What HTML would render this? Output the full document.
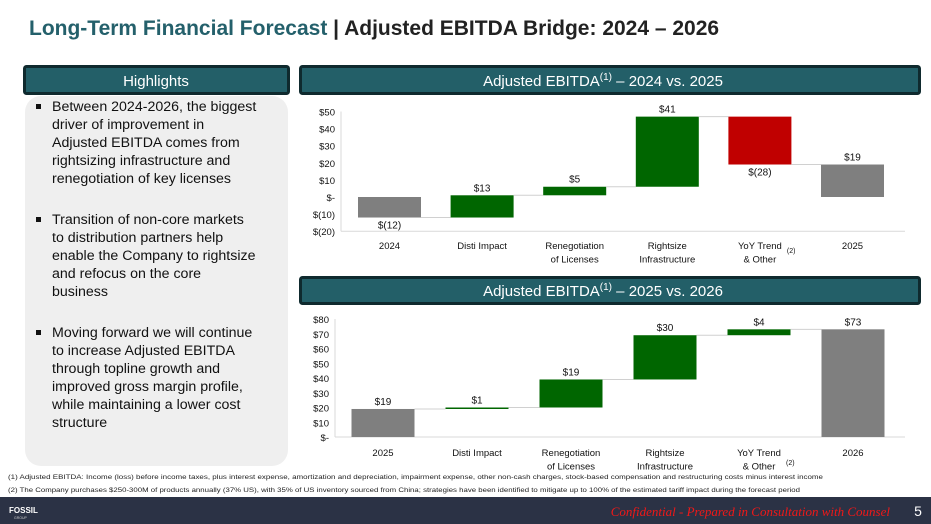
<!DOCTYPE html>
<html><head><meta charset="utf-8"><style>
body{margin:0;width:931px;height:524px;overflow:hidden;background:#fff;font-family:"Liberation Sans",sans-serif}
svg{display:block}
</style></head><body>
<svg id="s" width="931" height="524" font-family="Liberation Sans, sans-serif">
<text x="29" y="35" font-size="21" font-weight="bold"><tspan fill="#24606b">Long-Term Financial Forecast</tspan><tspan fill="#222"> | Adjusted EBITDA Bridge: 2024 – 2026</tspan></text>
<rect x="25" y="96" width="263" height="370" rx="16" fill="#efefef"/>
<rect x="24.5" y="66.5" width="264" height="27" rx="2" fill="#235f68" stroke="#0f2a2e" stroke-width="3"/>
<text x="156" y="86" font-size="15" fill="#fff" text-anchor="middle">Highlights</text>
<rect x="300.5" y="66.5" width="619" height="27" rx="2" fill="#235f68" stroke="#0f2a2e" stroke-width="3"/>
<text x="603" y="86" font-size="15" fill="#fff" text-anchor="middle">Adjusted EBITDA<tspan font-size="10" dy="-6">(1)</tspan><tspan dy="6"> – 2024 vs. 2025</tspan></text>
<rect x="300.5" y="277.5" width="619" height="26" rx="2" fill="#235f68" stroke="#0f2a2e" stroke-width="3"/>
<text x="603" y="296" font-size="15" fill="#fff" text-anchor="middle">Adjusted EBITDA<tspan font-size="10" dy="-6">(1)</tspan><tspan dy="6"> – 2025 vs. 2026</tspan></text>
<g font-size="14.2" fill="#111">
<rect x="36" y="104" width="5" height="5" fill="#111"/>
<text x="52" y="111">Between 2024-2026, the biggest</text>
<text x="52" y="129">driver of improvement in</text>
<text x="52" y="147">Adjusted EBITDA comes from</text>
<text x="52" y="165">rightsizing infrastructure and</text>
<text x="52" y="183">renegotiation of key licenses</text>
<rect x="36" y="217" width="5" height="5" fill="#111"/>
<text x="52" y="224">Transition of non-core markets</text>
<text x="52" y="242">to distribution partners help</text>
<text x="52" y="260">enable the Company to rightsize</text>
<text x="52" y="278">and refocus on the core</text>
<text x="52" y="296">business</text>
<rect x="36" y="330" width="5" height="5" fill="#111"/>
<text x="52" y="337">Moving forward we will continue</text>
<text x="52" y="355">to increase Adjusted EBITDA</text>
<text x="52" y="373">through topline growth and</text>
<text x="52" y="391">improved gross margin profile,</text>
<text x="52" y="409">while maintaining a lower cost</text>
<text x="52" y="427">structure</text>
</g>
<g id="c1"></g>
<g id="c2"></g>
<g font-size="6.6" fill="#222">
<text x="8" y="479" textLength="815" lengthAdjust="spacingAndGlyphs">(1) Adjusted EBITDA: Income (loss) before income taxes, plus interest expense, amortization and depreciation, impairment expense, other non-cash charges, stock-based compensation and restructuring costs minus interest income</text>
<text x="8" y="492" textLength="792" lengthAdjust="spacingAndGlyphs">(2) The Company purchases $250-300M of products annually (37% US), with 35% of US inventory sourced from China; strategies have been identified to mitigate up to 100% of the estimated tariff impact during the forecast period</text>
</g>
<rect x="0" y="497" width="931" height="27" fill="#2b3245"/>
<text x="9" y="513" font-size="8" font-weight="bold" fill="#fff">FOSSIL</text>
<text x="14" y="519" font-size="3.5" fill="#ccc">GROUP</text>
<text x="890" y="516" font-size="13" font-style="italic" fill="#f01818" text-anchor="end" font-family="Liberation Serif, serif">Confidential - Prepared in Consultation with Counsel</text>
<text x="918" y="516" font-size="14" fill="#fff" text-anchor="middle">5</text>
</svg>
<script>
const cats1 = ["2024","Disti Impact","Renegotiation|of Licenses","Rightsize|Infrastructure","YoY Trend|& Other","2025"];
const vals1 = [-12, 13, 5, 41, -28, 19];
const labels1 = ["$(12)","$13","$5","$41","$(28)","$19"];
const ticks1 = [50,40,30,20,10,0,-10,-20];
const tickLabels1 = ["$50","$40","$30","$20","$10","$-","$(10)","$(20)"];
const cats2 = ["2025","Disti Impact","Renegotiation|of Licenses","Rightsize|Infrastructure","YoY Trend|& Other","2026"];
const vals2 = [19, 1, 19, 30, 4, 73];
const labels2 = ["$19","$1","$19","$30","$4","$73"];
const ticks2 = [80,70,60,50,40,30,20,10,0];
const tickLabels2 = ["$80","$70","$60","$50","$40","$30","$20","$10","$-"];
const NS="http://www.w3.org/2000/svg";
function mk(t,a,p){const e=document.createElementNS(NS,t);for(const k in a)e.setAttribute(k,a[k]);p.appendChild(e);return e;}
function draw(g,cats,vals,labels,ticks,tl,o){
  const y=v=>o.zeroY-v*o.ppu, x=i=>o.x0+o.step*i;
  ticks.forEach((t,i)=>{const e=mk("text",{x:o.axisX-6,y:y(t)+4,"font-size":9.5,"text-anchor":"end",fill:"#111"},g);e.textContent=tl[i];
    
    });
  const ax=mk("line",{x1:o.axisX,x2:o.axisX,y1:y(ticks[0]),y2:y(ticks[ticks.length-1]),stroke:"#d9d9d9"},g);
  
  
  const bx=mk("line",{x1:o.axisX,x2:905,y1:y(ticks[ticks.length-1]),y2:y(ticks[ticks.length-1]),stroke:"#d9d9d9"},g);
  
  
  let run=0;const n=vals.length;
  vals.forEach((v,i)=>{
    const total=(i===0||i===n-1);
    let a,b,col;
    if(total){a=0;b=v;run=v;col="#7f7f7f";}
    else{a=run;b=run+v;run=b;col=v>=0?"#006600":"#c00000";}
    const top=y(Math.max(a,b)),bot=y(Math.min(a,b));
    const r=mk("rect",{x:x(i)-o.bw/2,y:top,width:o.bw,height:Math.max(bot-top,1.5),fill:col},g);
    
    
    if(i<n-1){const c=mk("line",{x1:x(i)+o.bw/2,x2:x(i+1)-o.bw/2,y1:y(run),y2:y(run),stroke:"#d0d0d0"},g);
      
      }
    const neg=v<0;
    const ly=neg?bot+11:top-4;
    const lt=mk("text",{x:x(i),y:ly,"font-size":10,"text-anchor":"middle",fill:"#111"},g);lt.textContent=labels[i];
    
    
    cats[i].split("|").forEach((s,j)=>{const t=mk("text",{x:x(i),y:o.catY+j*13.5,"font-size":9.5,"text-anchor":"middle",fill:"#111"},g);t.textContent=s;
      
      });
    if(i===4){const s=mk("text",{x:x(i)+27,y:o.catY+o.supDy,"font-size":7,fill:"#111"},g);s.textContent="(2)";
      
      }
  });
}
draw(document.getElementById("c1"),cats1,vals1,labels1,ticks1,tickLabels1,{zeroY:197,ppu:1.71,x0:389.5,step:92.6,bw:63,axisX:341,catY:249,supDy:4});
draw(document.getElementById("c2"),cats2,vals2,labels2,ticks2,tickLabels2,{zeroY:437,ppu:1.475,x0:383,step:94,bw:63,axisX:335,catY:456,supDy:9});
</script>
</body></html>
